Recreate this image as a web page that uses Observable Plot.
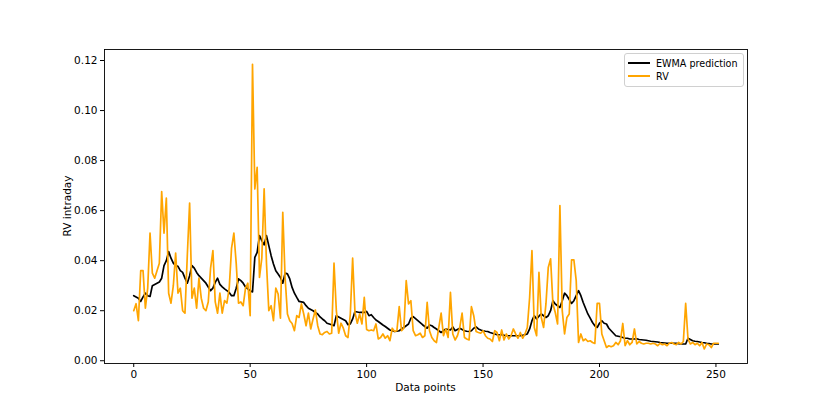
<!DOCTYPE html>
<html>
<head>
<meta charset="utf-8">
<script src="https://cdn.jsdelivr.net/npm/d3@7"></script>
<script src="https://cdn.jsdelivr.net/npm/@observablehq/plot@0.6"></script>
<style>
  html, body { margin: 0; padding: 0; background: #fff; }
  #wrap { position: relative; width: 830px; height: 415px; font-family: "DejaVu Sans", sans-serif; color: #000; }
  #legend { position: absolute; left: 624px; top: 53px; width: 118px; height: 32px; border: 1px solid #d0d0d0; border-radius: 3px; background: rgba(255,255,255,0.8); font-size: 9.6px; }
  .li { position: absolute; left: 3px; height: 12px; display: flex; align-items: center; white-space: nowrap; }
  .sw { width: 22px; height: 0; border-top: 2px solid; margin-right: 6px; }
  #xlab { position: absolute; left: 104px; width: 643px; top: 381px; text-align: center; font-size: 10.5px; white-space: nowrap; }
  #ylab { position: absolute; left: 67px; top: 206px; font-size: 10.5px; white-space: nowrap; transform: translate(-50%, -50%) rotate(-90deg); }
</style>
</head>
<body>
<div id="wrap">
  <div id="chart"></div>
  <div id="legend"></div>
  <div id="xlab"></div>
  <div id="ylab"></div>
</div>
<script>
const rv = [
0.020,0.0228,0.016,0.036,0.036,0.021,0.029,0.051,0.035,0.033,
0.036,0.039,0.0676,0.051,0.065,0.027,0.023,0.030,0.043,0.027,
0.029,0.020,0.019,0.042,0.063,0.025,0.029,0.021,0.033,0.025,
0.021,0.020,0.0235,0.037,0.044,0.0235,0.019,0.027,0.019,0.024,
0.023,0.029,0.045,0.051,0.039,0.023,0.0235,0.022,0.029,0.031,
0.018,0.1185,0.0687,0.0773,0.0333,0.041,0.0687,0.039,0.020,0.022,
0.016,0.029,0.0267,0.017,0.0593,0.0333,0.0187,0.016,0.0149,0.012,
0.018,0.0173,0.0227,0.0187,0.014,0.019,0.0127,0.0167,0.0203,0.014,
0.0107,0.0104,0.0113,0.0117,0.0107,0.011,0.039,0.020,0.011,0.015,
0.013,0.010,0.0093,0.0187,0.041,0.0193,0.015,0.0187,0.0147,0.0253,
0.0125,0.012,0.0123,0.012,0.0147,0.0087,0.0093,0.0107,0.009,0.010,
0.008,0.013,0.0117,0.012,0.0216,0.012,0.013,0.032,0.0227,0.024,
0.012,0.010,0.0104,0.011,0.0093,0.010,0.0233,0.012,0.0093,0.008,
0.0073,0.0133,0.019,0.010,0.0127,0.0093,0.0273,0.0107,0.0083,0.010,
0.0133,0.019,0.0093,0.0087,0.0083,0.0216,0.018,0.0117,0.0113,0.011,
0.012,0.010,0.009,0.0087,0.0077,0.012,0.0113,0.008,0.0123,0.0083,
0.0107,0.0087,0.010,0.0127,0.0107,0.009,0.0113,0.009,0.0107,0.0133,
0.0253,0.044,0.0133,0.010,0.0353,0.0173,0.0133,0.0227,0.0373,0.0407,
0.0227,0.0193,0.0147,0.062,0.020,0.0107,0.0173,0.0187,0.0403,0.0403,
0.032,0.0073,0.0107,0.008,0.0087,0.0077,0.008,0.0073,0.0069,0.0229,
0.0229,0.0107,0.008,0.0053,0.006,0.0056,0.006,0.0073,0.0064,0.008,
0.0149,0.006,0.008,0.0064,0.0073,0.0127,0.0067,0.0077,0.007,0.0067,
0.007,0.007,0.0067,0.007,0.0067,0.006,0.007,0.0064,0.0067,0.006,
0.007,0.0073,0.0067,0.0064,0.0073,0.0067,0.0077,0.0229,0.0087,0.0067,
0.0073,0.0064,0.007,0.006,0.0073,0.0047,0.0067,0.0064,0.0053,0.007,
0.007,0.007
];
const ewma = [
0.026,0.0255,0.025,0.0237,0.0255,0.027,0.026,0.0257,0.030,0.0305,
0.031,0.0315,0.033,0.038,0.040,0.0436,0.041,0.039,0.038,0.0377,
0.036,0.0353,0.033,0.031,0.034,0.038,0.037,0.0353,0.034,0.033,
0.032,0.031,0.0295,0.028,0.029,0.0313,0.033,0.0305,0.0295,0.0287,
0.028,0.0273,0.026,0.026,0.029,0.0327,0.032,0.031,0.0295,0.0287,
0.028,0.0275,0.0413,0.0433,0.050,0.048,0.0463,0.050,0.046,0.042,
0.0387,0.036,0.0347,0.0333,0.031,0.035,0.0347,0.0327,0.0293,0.027,
0.0253,0.0237,0.0235,0.0233,0.022,0.021,0.0205,0.020,0.0193,0.0187,
0.0175,0.0167,0.016,0.015,0.0147,0.0144,0.014,0.018,0.0175,0.017,
0.0165,0.016,0.0144,0.0147,0.0167,0.0197,0.0195,0.0193,0.0193,0.0193,
0.0197,0.018,0.0184,0.0173,0.0163,0.0157,0.015,0.0143,0.0137,0.013,
0.0123,0.012,0.0117,0.0118,0.012,0.0127,0.0133,0.014,0.0147,0.017,
0.0176,0.0168,0.016,0.0152,0.0144,0.0137,0.013,0.0143,0.014,0.0133,
0.0127,0.012,0.0113,0.012,0.0127,0.0125,0.0123,0.0135,0.012,0.0125,
0.013,0.0125,0.012,0.0118,0.0117,0.012,0.013,0.0135,0.0127,0.0123,
0.012,0.0118,0.0117,0.0113,0.011,0.0107,0.0104,0.0104,0.0104,0.0102,
0.010,0.010,0.010,0.010,0.010,0.010,0.010,0.0102,0.0104,0.0107,
0.0127,0.016,0.018,0.0167,0.0178,0.0187,0.018,0.0173,0.018,0.020,
0.024,0.0227,0.022,0.0213,0.024,0.027,0.026,0.0245,0.0229,0.024,
0.026,0.028,0.026,0.0233,0.021,0.0187,0.017,0.0153,0.014,0.0133,
0.015,0.016,0.015,0.0147,0.013,0.012,0.011,0.010,0.0098,0.0096,
0.0093,0.009,0.009,0.0087,0.0087,0.0087,0.0088,0.0085,0.0084,0.0083,
0.0082,0.008,0.0078,0.0077,0.0076,0.0075,0.0073,0.0072,0.0071,0.007,
0.007,0.007,0.007,0.007,0.0068,0.0067,0.0067,0.0067,0.009,0.0085,
0.008,0.0078,0.0077,0.0075,0.0073,0.0072,0.007,0.0069,0.0067,0.0067,
0.0067,0.0067
];
const xTicks = [0, 50, 100, 150, 200, 250];
const yTicks = [0, 0.02, 0.04, 0.06, 0.08, 0.10, 0.12];
const seriesNames = ["EWMA prediction", "RV"];
const seriesColors = ["black", "orange"];
const xLabel = "Data points";
const yLabel = "RV intraday";

const ewmaData = ewma.map((v, i) => ({i, v}));
const rvData = rv.map((v, i) => ({i, v}));

const chart = Plot.plot({
  width: 830,
  height: 415,
  marginLeft: 104,
  marginRight: 83,
  marginTop: 49,
  marginBottom: 52,
  style: {fontFamily: "DejaVu Sans, sans-serif", fontSize: "10.5px", background: "white", color: "black"},
  x: {domain: [-12.55, 263.55]},
  y: {domain: [-0.0011, 0.1244]},
  marks: [
    Plot.line(ewmaData, {x: "i", y: "v", stroke: seriesColors[0], strokeWidth: 1.7}),
    Plot.line(rvData, {x: "i", y: "v", stroke: seriesColors[1], strokeWidth: 1.7}),
    Plot.frame({stroke: "black", strokeWidth: 0.9}),
    Plot.axisX({ticks: xTicks, tickSize: 4, tickPadding: 3, label: null, tickFormat: d3.format("d")}),
    Plot.axisY({ticks: yTicks, tickSize: 4, tickPadding: 3, label: null, tickFormat: d3.format(".2f")})
  ]
});
document.getElementById("chart").appendChild(chart);
document.getElementById("xlab").textContent = xLabel;
document.getElementById("ylab").textContent = yLabel;

const legend = document.getElementById("legend");
seriesNames.forEach((name, k) => {
  const row = document.createElement("div");
  row.className = "li";
  row.style.top = (k === 0 ? 3 : 16) + "px";
  const sw = document.createElement("span");
  sw.className = "sw";
  sw.style.borderColor = seriesColors[k];
  const tx = document.createElement("span");
  tx.textContent = name;
  row.appendChild(sw);
  row.appendChild(tx);
  legend.appendChild(row);
});
</script>
</body>
</html>
